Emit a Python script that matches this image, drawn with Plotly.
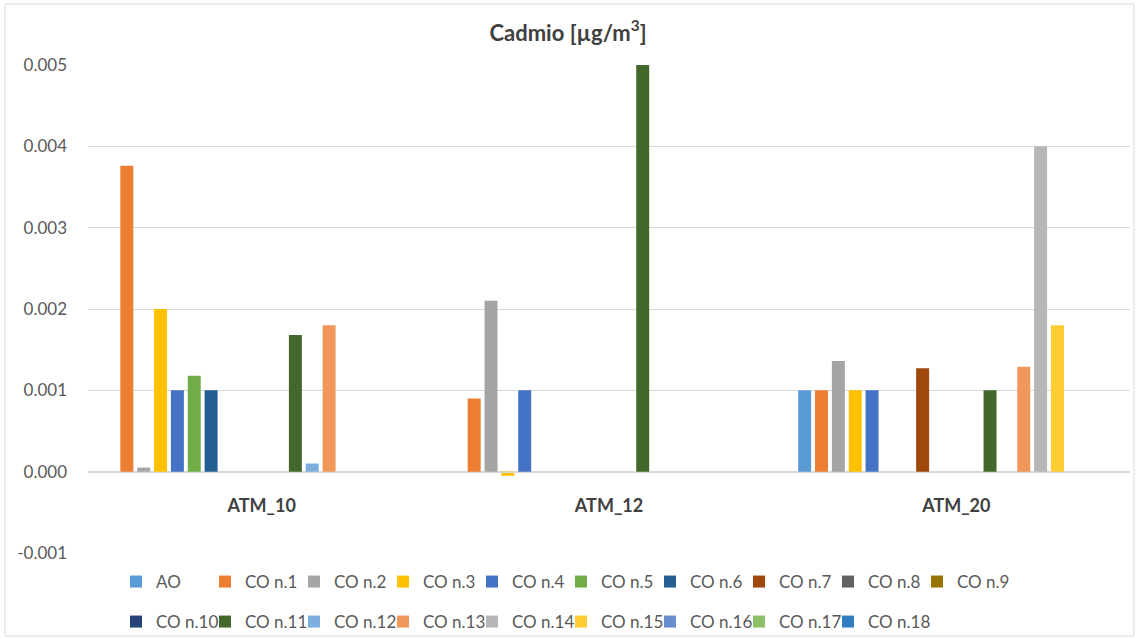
import plotly.graph_objects as go

# Sampling sites on the category axis
categories = ["ATM_10", "ATM_12", "ATM_20"]

# Cadmium concentration per point [µg/m³], one value per site (None = not measured)
series_names = ["AO", "CO n.1", "CO n.2", "CO n.3", "CO n.4", "CO n.5", "CO n.6",
                "CO n.7", "CO n.8", "CO n.9", "CO n.10", "CO n.11", "CO n.12",
                "CO n.13", "CO n.14", "CO n.15", "CO n.16", "CO n.17", "CO n.18"]

ao = [None, None, 0.001]
co_1 = [0.00376, 0.0009, 0.001]
co_2 = [0.00005, 0.0021, 0.00136]
co_3 = [0.002, -0.00005, 0.001]
co_4 = [0.001, 0.001, 0.001]
co_5 = [0.00118, None, None]
co_6 = [0.001, None, None]
co_7 = [None, None, 0.00127]
co_8 = [None, None, None]
co_9 = [None, None, None]
co_10 = [None, None, None]
co_11 = [0.00168, 0.005, 0.001]
co_12 = [0.0001, None, None]
co_13 = [0.0018, None, 0.00129]
co_14 = [None, None, 0.004]
co_15 = [None, None, 0.0018]
co_16 = [None, None, None]
co_17 = [None, None, None]
co_18 = [None, None, None]

series_values = [ao, co_1, co_2, co_3, co_4, co_5, co_6, co_7, co_8, co_9,
                 co_10, co_11, co_12, co_13, co_14, co_15, co_16, co_17, co_18]

# Value axis ticks
y_tickvals = [-0.001, 0.0, 0.001, 0.002, 0.003, 0.004, 0.005]
y_ticktext = ["-0.001", "0.000", "0.001", "0.002", "0.003", "0.004", "0.005"]

# Office palette
colors = ["#5B9BD5", "#ED7D31", "#A5A5A5", "#FFC000", "#4472C4", "#70AD47",
          "#255E91", "#9E480E", "#636363", "#997300", "#264478", "#43682B",
          "#7CAFDD", "#F1975A", "#B7B7B7", "#FFCD33", "#698ED0", "#8CC168",
          "#327DC2"]

FONT = "Lato"
W, H = 1136, 639
M_L, M_R, M_T, M_B = 88, 6, 65, 86
PW = W - M_L - M_R
PH = H - M_T - M_B

# Legend grid: 10 entries on the first row, the rest on the second
LEGEND_PER_ROW = 10
LEGEND_LEFT_PX = 116
LEGEND_COL_PX = 89
LEGEND_ROW_PX = [582, 622]


def px_x(px):
    return (px - M_L) / PW


def px_y(py):
    return (H - M_B - py) / PH


fig = go.Figure()
legend_layout = {}
for i, (name, vals) in enumerate(zip(series_names, series_values)):
    key = "legend" if i == 0 else f"legend{i + 1}"
    fig.add_trace(go.Bar(
        x=categories, y=vals, name=name, showlegend=True,
        marker=dict(color=colors[i], line=dict(width=0)),
        legend=key,
    ))
    row, col = divmod(i, LEGEND_PER_ROW)
    legend_layout[key] = dict(
        xref="container", yref="container",
        x=(LEGEND_LEFT_PX + col * LEGEND_COL_PX) / W,
        y=1 - LEGEND_ROW_PX[row] / H,
        xanchor="left", yanchor="middle", orientation="h",
        font=dict(family=FONT, size=17, color="#595959"),
        bgcolor="rgba(0,0,0,0)", borderwidth=0, visible=True,
        itemclick=False, itemdoubleclick=False,
    )

ymin, ymax = -0.001, 0.005
zero_pos = (0 - ymin) / (ymax - ymin)

fig.update_layout(
    width=W, height=H,
    margin=dict(l=M_L, r=M_R, t=M_T, b=M_B, autoexpand=False),
    paper_bgcolor="white", plot_bgcolor="white",
    showlegend=True,
    barmode="group", bargap=0.078, bargroupgap=0.23,
    font=dict(family=FONT, color="#595959"),
    title=dict(text="<b>Cadmio [µg/m<sup>3</sup>]</b>", x=0.5, xref="container",
               y=1 - 33 / H, yref="container", xanchor="center", yanchor="middle",
               font=dict(family=FONT, size=22, color="#404040")),
    xaxis=dict(
        anchor="free", position=zero_pos,
        showline=True, linecolor="#D9D9D9", linewidth=1,
        ticks="", ticklabelstandoff=18,
        tickfont=dict(family=FONT, size=18, color="#404040", weight="bold"),
        showgrid=False, zeroline=False,
    ),
    yaxis=dict(
        range=[ymin, ymax], tickvals=y_tickvals, ticktext=y_ticktext,
        showgrid=True, gridcolor="#D9D9D9", gridwidth=1,
        zeroline=False, showline=False, ticks="",
        ticklabelstandoff=20,
        tickfont=dict(family=FONT, size=17, color="#595959"),
    ),
    shapes=[dict(type="rect", xref="paper", yref="paper",
                 x0=px_x(5), x1=px_x(1134), y0=px_y(636), y1=px_y(4),
                 line=dict(color="#D9D9D9", width=1), fillcolor="rgba(0,0,0,0)",
                 layer="below")],
    **legend_layout,
)

fig.write_html("out.html")
